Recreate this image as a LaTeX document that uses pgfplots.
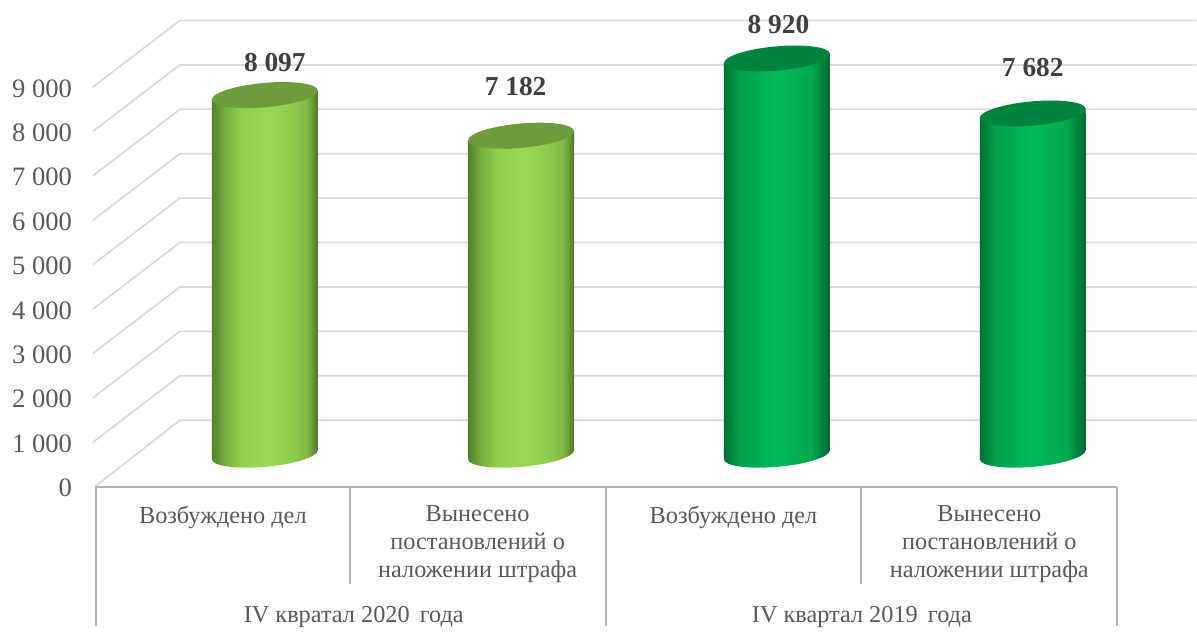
\documentclass[border=0pt]{standalone}
\usepackage{pgfplots}
\pgfplotsset{compat=1.18}
\usepackage{fontspec}
\setmainfont{Liberation Serif}
\definecolor{gridc}{HTML}{D9D9D9}
\definecolor{axc}{HTML}{B3B3B3}
\definecolor{txt}{HTML}{595959}
\definecolor{lab}{HTML}{404040}
\definecolor{la}{HTML}{557F2C}
\definecolor{lb}{HTML}{76AE3F}
\definecolor{lc}{HTML}{8FD04E}
\definecolor{ld}{HTML}{97DA54}
\definecolor{le}{HTML}{8ECD4D}
\definecolor{lf}{HTML}{7FB845}
\definecolor{lg}{HTML}{4F7828}
\definecolor{ltop}{HTML}{6E9C3A}
\definecolor{da}{HTML}{006F35}
\definecolor{db}{HTML}{00A04C}
\definecolor{dc}{HTML}{00BB58}
\definecolor{dd}{HTML}{00A84F}
\definecolor{de}{HTML}{006830}
\definecolor{dtop}{HTML}{00843D}
\pgfdeclarehorizontalshading{cyllight}{100bp}{color(0bp)=(la); color(25bp)=(la); color(31bp)=(lb); color(39bp)=(lc); color(51bp)=(ld); color(62bp)=(le); color(70bp)=(lf); color(75bp)=(lg); color(100bp)=(lg)}
\pgfdeclarehorizontalshading{cyldark}{100bp}{color(0bp)=(da); color(25bp)=(da); color(32bp)=(db); color(50bp)=(dc); color(66bp)=(dd); color(75bp)=(de); color(100bp)=(de)}
% 1 px of the reference = 0.5pt
\newcommand{\cylell}{\pgfpathellipse{\pgfpointorigin}{\pgfqpoint{26.5pt}{2.25pt}}{\pgfqpoint{0pt}{6.1pt}}}
\newcommand{\cylbottom}[1]{%
  \pgfsetfillcolor{white}%
  \pgfpathrectanglecorners{\pgfqpoint{23pt}{-0.5pt}}{\pgfqpoint{27pt}{2.25pt}}\pgfusepath{fill}%
  \pgfpathmoveto{\pgfqpoint{-26.5pt}{-2.25pt}}\pgfpathlineto{\pgfqpoint{26.5pt}{2.25pt}}\pgfpathlineto{\pgfqpoint{26.5pt}{3pt}}\pgfpathlineto{\pgfqpoint{-26.5pt}{3pt}}\pgfpathclose
  \pgfshadepath{#1}{0}\pgfusepath{discard}%
  \cylell\pgfshadepath{#1}{0}\pgfusepath{discard}}
\newcommand{\cyltop}[2]{%
  \pgfsetfillcolor{white}%
  \pgfpathrectanglecorners{\pgfqpoint{-27pt}{-2.25pt}}{\pgfqpoint{-23pt}{0.5pt}}\pgfusepath{fill}%
  \pgfpathmoveto{\pgfqpoint{-26.5pt}{-2.25pt}}\pgfpathlineto{\pgfqpoint{26.5pt}{2.25pt}}\pgfpathlineto{\pgfqpoint{26.5pt}{-3pt}}\pgfpathlineto{\pgfqpoint{-26.5pt}{-3pt}}\pgfpathclose
  \pgfshadepath{#1}{0}\pgfusepath{discard}%
  \pgfsetfillcolor{#2}\cylell\pgfusepath{fill}}
\pgfdeclareplotmark{botL}{\cylbottom{cyllight}}
\pgfdeclareplotmark{botD}{\cylbottom{cyldark}}
\pgfdeclareplotmark{topL}{\cyltop{cyllight}{ltop}}
\pgfdeclareplotmark{topD}{\cyltop{cyldark}{dtop}}
\pgfplotsset{
  page/.style={
    scale only axis, width=598.5pt, height=313pt, clip=false,
    xmin=0, xmax=1197, scaled ticks=false,
    axis line style={draw=none}, tick style={draw=none},
    /pgf/number format/assume math mode=true,
    /pgf/number format/1000 sep={\ },
    /pgf/number format/fixed,
  },
  cyl/.style={ybar, bar width=53pt, bar shift=0pt, draw=none, shade, shading=#1},
  val/.style 2 args={nodes near coords, point meta=y,
    every node near coord/.style={anchor=center, font=\fontsize{13.7}{16}\selectfont\bfseries, text=lab, xshift=#1, yshift=#2}},
  gl/.style={color=gridc, line width=0.85pt, forget plot, mark=none},
  tb/.style={color=axc, line width=1pt, forget plot, mark=none},
}
\begin{document}
\begin{tikzpicture}
% Front plane: value axis, walls and the category table; 0 lies at reference pixel y=487
\begin{axis}[page, name=front,
    ymin=-3127.5, ymax=10957.5,
    ytick={0,1000,2000,3000,4000,5000,6000,7000,8000,9000},
    yticklabel style={anchor=east, xshift=36pt, yshift=-0.7pt, font=\fontsize{13.3}{15}\selectfont, text=txt, inner sep=0pt, outer sep=0pt},
    xtick={223,478,734,990},
    xticklabels={Возбуждено дел, Вынесено\\постановлений о\\наложении штрафа, Возбуждено дел, Вынесено\\постановлений о\\наложении штрафа},
    xticklabel style={align=center, anchor=north, yshift=59.8pt, font=\fontsize{12.15}{14}\selectfont, text=txt, inner sep=0pt, outer sep=0pt},
  ]
  \addplot[gl] coordinates {(95,0) (180,1496) (1197,1496)};
  \addplot[gl] coordinates {(93,1000) (180,2496) (1197,2496)};
  \addplot[gl] coordinates {(93,2000) (180,3496) (1197,3496)};
  \addplot[gl] coordinates {(93,3000) (180,4496) (1197,4496)};
  \addplot[gl] coordinates {(93,4000) (180,5496) (1197,5496)};
  \addplot[gl] coordinates {(93,5000) (180,6496) (1197,6496)};
  \addplot[gl] coordinates {(93,6000) (180,7496) (1197,7496)};
  \addplot[gl] coordinates {(93,7000) (180,8496) (1197,8496)};
  \addplot[gl] coordinates {(93,8000) (180,9496) (1197,9496)};
  \addplot[gl] coordinates {(93,9000) (180,10496) (1197,10496)};
  \addplot[tb] coordinates {(95,0) (1118,0)};
  \addplot[tb] coordinates {(96,0) (96,-3127.5)};
  \addplot[tb] coordinates {(350,0) (350,-2183)};
  \addplot[tb] coordinates {(606,0) (606,-3127.5)};
  \addplot[tb] coordinates {(862,0) (862,-2183)};
  \addplot[tb] coordinates {(1118,0) (1118,-3127.5)};
  \node[font=\fontsize{12.15}{14}\selectfont, text=txt] at (axis cs:354,-2925) {IV квратал 2020\, года};
  \node[font=\fontsize{12.15}{14}\selectfont, text=txt] at (axis cs:862.5,-2925) {IV квартал 2019\, года};
\end{axis}
% Bars: the base of the cylinders lies at reference pixel y=455
\begin{axis}[page, at={(front.south west)}, anchor=south west,
    ymin=-3847.5, ymax=10237.5, xtick=\empty, ytick=\empty]
  \addplot[cyl=cyllight, val={5pt}{16.5pt}] coordinates {(265,8097)};
  \addplot[cyl=cyllight, val={-2.75pt}{24.5pt}] coordinates {(521.5,7182)};
  \addplot[cyl=cyldark, val={0.75pt}{16.8pt}] coordinates {(777.5,8920)};
  \addplot[cyl=cyldark, val={0pt}{22.8pt}] coordinates {(1033.5,7682)};
  \addplot[only marks, mark=botL, forget plot] coordinates {(265,0) (521.5,0)};
  \addplot[only marks, mark=botD, forget plot] coordinates {(777.5,0) (1033.5,0)};
  \addplot[only marks, mark=topL, forget plot] coordinates {(265,8097) (521.5,7182)};
  \addplot[only marks, mark=topD, forget plot] coordinates {(777.5,8920) (1033.5,7682)};
\end{axis}
\end{tikzpicture}
\end{document}
